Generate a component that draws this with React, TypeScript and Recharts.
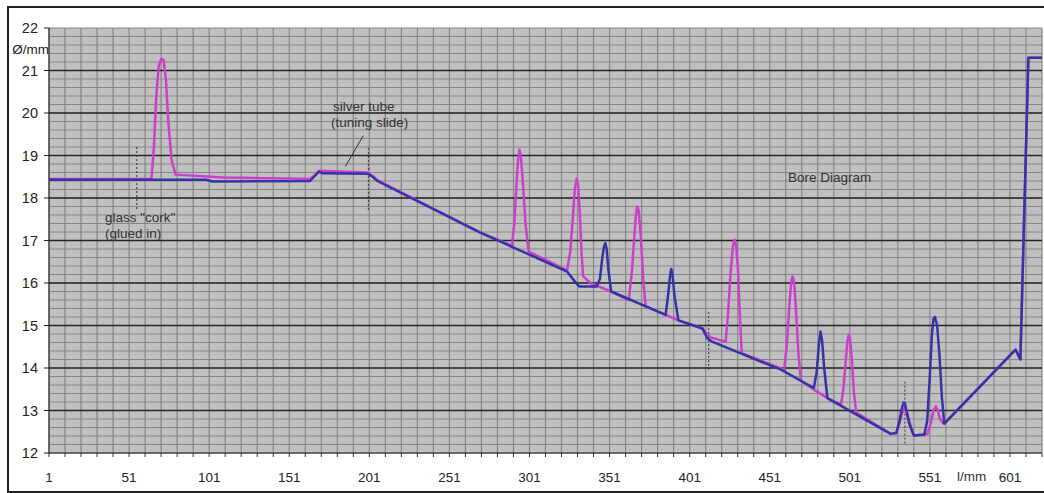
import React from "react";
import { LineChart, Line, XAxis, YAxis, CartesianGrid, ReferenceLine } from "recharts";

// bore diameter along the instrument
const blueLength = [1, 99, 103, 164, 166.5, 169.5, 172, 200, 203, 206, 270, 324.5, 329, 332, 343, 345, 346.5, 347.5, 348.3, 349.2, 350.3, 352, 386, 387.5, 388.7, 389.5, 390.3, 391.5, 394, 409, 412, 415, 458, 478.5, 480.3, 481.7, 482.7, 483.7, 485, 487, 526.5, 530, 532, 533.7, 534.7, 535.4, 536.3, 538, 541, 547.5, 549.3, 550.8, 552.2, 553.2, 554.2, 555.5, 557, 558.5, 560, 604.5, 607.5, 612.5, 621];
const blueDia = [18.43, 18.43, 18.39, 18.4, 18.5, 18.62, 18.58, 18.57, 18.5, 18.4, 17.19, 16.27, 16.05, 15.92, 15.92, 16.1, 16.6, 16.85, 16.94, 16.8, 16.3, 15.8, 15.25, 15.7, 16.15, 16.33, 16.2, 15.7, 15.12, 14.93, 14.7, 14.62, 13.96, 13.53, 13.9, 14.55, 14.86, 14.65, 14.0, 13.29, 12.45, 12.47, 12.75, 13.08, 13.19, 13.17, 13.0, 12.7, 12.41, 12.43, 12.75, 13.7, 14.75, 15.15, 15.2, 15.0, 14.3, 13.3, 12.69, 14.43, 14.2, 21.3, 21.3];

const pinkLength = [1, 65, 66.5, 68, 69.5, 71, 72.5, 74, 75.5, 77.5, 80, 110, 164, 166.5, 169.5, 200, 203, 206, 270, 290, 291.5, 293, 294, 294.8, 295.6, 296.8, 298.5, 300.5, 324.5, 326.5, 328, 329.3, 330.4, 331.4, 332.5, 333.5, 334.5, 339, 344, 352, 363, 364.8, 366.3, 367.5, 368.3, 369.2, 370.5, 372, 373.5, 386, 394, 409, 414, 423.5, 425, 426.5, 428, 429, 430, 431.2, 432.3, 433.5, 458, 460, 461.8, 463.3, 464.5, 465.3, 466.3, 467.5, 469, 470.5, 478.7, 487, 495.5, 497, 498.5, 499.6, 500.3, 501.1, 502.3, 503.6, 505, 526.5, 530, 532, 533.8, 535.4, 536.8, 538.5, 541, 549.5, 551.5, 553.3, 554.7, 556, 557.3, 558.7, 560, 604.5, 607.5, 612.5, 621];
const pinkDia = [18.45, 18.45, 19.2, 20.4, 21.1, 21.27, 21.25, 20.8, 19.8, 18.9, 18.55, 18.48, 18.45, 18.52, 18.64, 18.6, 18.52, 18.42, 17.19, 16.88, 17.4, 18.4, 18.95, 19.14, 19.0, 18.4, 17.4, 16.74, 16.3, 16.75, 17.5, 18.2, 18.45, 18.3, 17.6, 16.7, 16.16, 16.0, 15.92, 15.8, 15.6, 16.2, 17.0, 17.6, 17.8, 17.7, 17.1, 16.1, 15.45, 15.25, 15.12, 14.93, 14.72, 14.62, 15.3, 16.2, 16.85, 17.02, 16.9, 16.3, 15.3, 14.35, 13.99, 13.95, 14.6, 15.5, 16.05, 16.15, 16.0, 15.3, 14.3, 13.7, 13.49, 13.29, 13.14, 13.5, 14.2, 14.65, 14.78, 14.7, 14.2, 13.4, 12.95, 12.45, 12.47, 12.7, 12.95, 13.06, 12.95, 12.7, 12.41, 12.45, 12.7, 13.0, 13.1, 13.0, 12.8, 12.72, 12.69, 14.43, 14.2, 21.3, 21.3];

const xLabels = [1, 51, 101, 151, 201, 251, 301, 351, 401, 451, 501, 551, 601];
const yLabels = [12, 13, 14, 15, 16, 17, 18, 19, 20, 21, 22];

const blueData = blueLength.map((l, i) => ({ l, d: blueDia[i] }));
const pinkData = pinkLength.map((l, i) => ({ l, d: pinkDia[i] }));

const xGridTicks: number[] = [];
for (let v = 1; v <= 621; v += 10) xGridTicks.push(v);
const yGridTicks: number[] = [];
yLabels.forEach((v) => {
  for (let k = 0; k < 5; k++) if (v < 22 || k === 0) yGridTicks.push(Math.round((v + k * 0.2) * 10) / 10);
});

const FONT = "'Liberation Sans', Arial, sans-serif";
const PLOT_LEFT = 49;
const PLOT_BOTTOM = 453;

function YTick({ y, payload }: any) {
  if (!yLabels.includes(payload.value)) return null;
  return (
    <g>
      <line x1={PLOT_LEFT - 5} x2={PLOT_LEFT} y1={y} y2={y} stroke="#222" />
      <text x={38} y={y + 5} textAnchor="end" fontSize={14.5} fill="#222" fontFamily={FONT}>
        {payload.value}
      </text>
    </g>
  );
}

function XTick({ x, payload }: any) {
  const show = xLabels.includes(payload.value);
  return (
    <g>
      <line x1={x} x2={x} y1={PLOT_BOTTOM} y2={PLOT_BOTTOM + 4} stroke="#333" />
      {show && (
        <text x={x} y={482} textAnchor="middle" fontSize={13.5} fill="#222" fontFamily={FONT}>
          {payload.value}
        </text>
      )}
    </g>
  );
}

const note = (left: number, top: number, text: string) => (
  <div style={{ position: "absolute", left, top, fontSize: 13.5, color: "#333", fontFamily: FONT, whiteSpace: "nowrap", lineHeight: "15px" }}>
    {text}
  </div>
);

export default function App() {
  return (
    <div style={{ position: "absolute", left: 0, top: 0, width: 1044, height: 493, background: "#fff", overflow: "hidden" }}>
      <div style={{ position: "absolute", left: 7, top: 6, width: 1040, height: 483, borderLeft: "2px solid #222", borderTop: "2px solid #222", borderBottom: "2px solid #222" }} />
      <LineChart width={1044} height={493} margin={{ top: 28, right: 2, bottom: 0, left: 0 }} style={{ position: "absolute", left: 0, top: 0 }}>
        <CartesianGrid fill="#c0c0c0" stroke="#858585" strokeWidth={1.2} />
        <XAxis
          type="number"
          dataKey="l"
          domain={[1, 621]}
          ticks={xGridTicks}
          interval={0}
          height={40}
          tick={<XTick />}
          tickLine={false}
          axisLine={{ stroke: "#222" }}
        />
        <YAxis
          type="number"
          domain={[12, 22]}
          ticks={yGridTicks}
          interval={0}
          width={49}
          tick={<YTick />}
          tickLine={false}
          axisLine={{ stroke: "#222" }}
        />
        {yLabels.slice(1, -1).map((v) => (
          <ReferenceLine key={v} y={v} stroke="#262626" strokeWidth={1.5} />
        ))}
        <ReferenceLine segment={[{ x: 55.8, y: 19.2 }, { x: 55.8, y: 17.7 }]} stroke="#333" strokeDasharray="2 2" />
        <ReferenceLine segment={[{ x: 200.4, y: 19.18 }, { x: 200.4, y: 17.7 }]} stroke="#333" strokeDasharray="2 2" />
        <ReferenceLine segment={[{ x: 412.9, y: 15.32 }, { x: 412.9, y: 13.96 }]} stroke="#333" strokeDasharray="2 2" />
        <ReferenceLine segment={[{ x: 535.4, y: 13.68 }, { x: 535.4, y: 12.2 }]} stroke="#333" strokeDasharray="2 2" />
        <ReferenceLine segment={[{ x: 186, y: 18.74 }, { x: 197.3, y: 19.47 }]} stroke="#333" />
        <Line data={pinkData} dataKey="d" type="linear" stroke="#cc3fcc" strokeWidth={2.5} strokeLinejoin="round" dot={false} activeDot={false} isAnimationActive={false} />
        <Line data={blueData} dataKey="d" type="linear" stroke="#3434a6" strokeWidth={2.5} strokeLinejoin="round" dot={false} activeDot={false} isAnimationActive={false} />
      </LineChart>
      <div style={{ position: "absolute", left: 6, top: 42, width: 43, textAlign: "right", fontSize: 13.5, color: "#222", fontFamily: FONT }}>Ø/mm</div>
      {note(105, 210, "glass \"cork\"")}
      {note(105, 226, "(glued in)")}
      {note(333, 99, "silver tube")}
      {note(331, 115, "(tuning slide)")}
      {note(788, 170, "Bore Diagram")}
      {note(957, 469, "l/mm")}
    </div>
  );
}
